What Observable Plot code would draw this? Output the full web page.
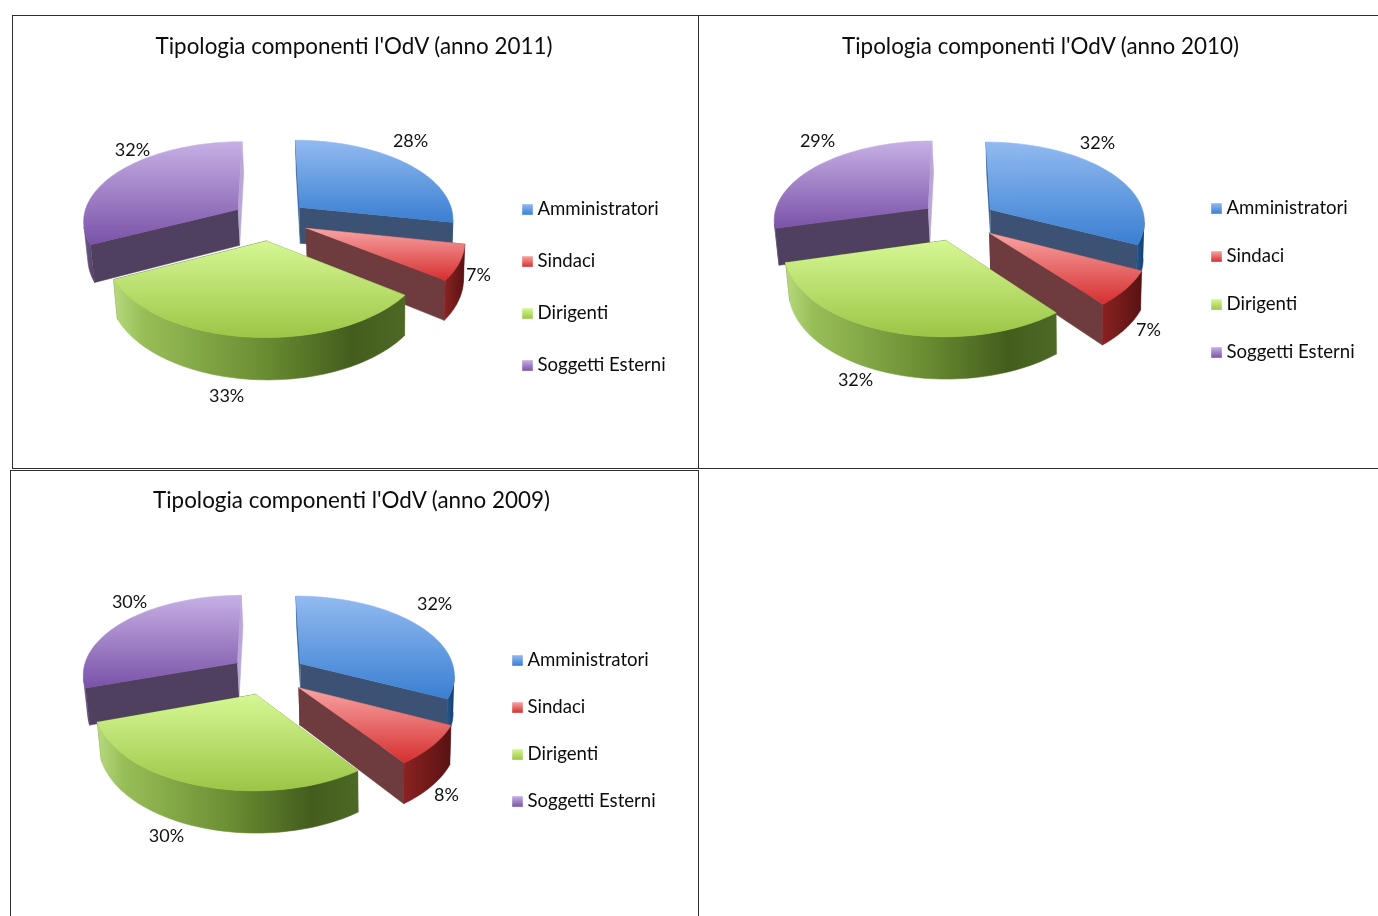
<!DOCTYPE html>
<html>
<head>
<meta charset="utf-8">
<style>
  html, body { margin: 0; padding: 0; background: #fff; }
  #page { position: relative; width: 1378px; height: 916px; overflow: hidden; background: #fff; filter: blur(0.35px); }
  .cell { position: absolute; box-sizing: border-box; border: 1px solid #2e2e2e; overflow: hidden; }
  .layer { position: absolute; }
  svg { display: block; background: transparent; overflow: visible; }
  svg text { font-family: Lato, "Open Sans", sans-serif; }
</style>
<script src="https://cdn.jsdelivr.net/npm/d3@7"></script>
<script src="https://cdn.jsdelivr.net/npm/@observablehq/plot@0.6"></script>
</head>
<body>
<div id="page"></div>
<script>
// ---- values
const categories = ["Amministratori", "Sindaci", "Dirigenti", "Soggetti Esterni"];
const shares2011 = [28, 7, 33, 32];
const shares2010 = [32, 7, 32, 29];
const shares2009 = [32, 8, 30, 30];
const title2011 = "Tipologia componenti l'OdV (anno 2011)";
const title2010 = "Tipologia componenti l'OdV (anno 2010)";
const title2009 = "Tipologia componenti l'OdV (anno 2009)";

// ---- label placement, in pie radii from the pie's centre
const labelX2011 = [0.907, 1.345, -0.28, -0.887];
const labelY2011 = [-0.971, 0.684, 2.177, -0.86];
const labelX2010 = [0.9, 1.229, -0.661, -0.906];
const labelY2010 = [-0.951, 1.358, 1.975, -0.976];
const labelX2009 = [1.075, 1.152, -0.655, -0.893];
const labelY2009 = [-0.865, 1.493, 2.0, -0.889];

// ---- styling
const topStops = [["#92baf0", "#3a7fd2"], ["#f8a4a4", "#d62f2f"], ["#d6f794", "#9cc646"], ["#c6b0e4", "#7a52a8"]];
const frontWallColors = ["#3b5275", "#6e3c3e", "#5a7a30", "#50405f"];
const backWallColors = ["#2a5a94", "#6e3c3e", "#5a7a30", "#b9a7d8"];
const arcStops = [
  [[0, "#27598f"], [1, "#123c6c"]],
  [[0, "#8a2222"], [1, "#5a1212"]],
  [[0, "#b6da7e"], [0.1, "#98be58"], [0.5, "#6c8f33"], [0.82, "#445d1d"], [1, "#4d6925"]],
  [[0, "#6d5a88"], [1, "#50405f"]]
];

// ---- pie geometry (pixels per radius, perspective, tilt, explosion)
const rx = 155, ry = 81, persp = 0.129, thick = 0.45, explode = 0.25, lean = 0.0144, vanish = 0.65;
const panelW = 686;

function project(X, Y, z) {
  const p = 1 + persp * Y;
  return { x: (X + (vanish - X) * lean * z) * p, y: (Y + thick * z) * p };
}

function sliceParts(shares) {
  const total = d3.sum(shares);
  let acc = 0;
  const slices = shares.map((s, i) => {
    const a0 = acc / total * 2 * Math.PI;
    acc += s;
    const a1 = acc / total * 2 * Math.PI;
    const mid = (a0 + a1) / 2;
    const ex = explode * Math.sin(mid), ey = -explode * Math.cos(mid);
    const pt = (a, r, z) => project(ex + r * Math.sin(a), ey - r * Math.cos(a), z);
    const steps = 64;
    const angles = d3.range(steps + 1).map(j => a0 + (a1 - a0) * j / steps);
    const top = [pt(a0, 0, 0), ...angles.map(a => pt(a, 1, 0))];
    const radial = [a0, a1]
      .sort((p, q) => (-Math.cos(p)) - (-Math.cos(q)))
      .map(a => [pt(a, 0, 0), pt(a, 1, 0), pt(a, 1, 1), pt(a, 0, 1)]);
    // the outer wall only where it faces the viewer
    const facing = angles.filter((a, j) => {
      if (j === steps) return false;
      const t0 = pt(a, 1, 0), t1 = pt(angles[j + 1], 1, 0), b0 = pt(a, 1, 1);
      return (t1.x - t0.x) * (b0.y - t0.y) - (t1.y - t0.y) * (b0.x - t0.x) < 0;
    });
    const arc = facing.length < 1 ? null : (() => {
      const run = [...facing, facing[facing.length - 1] + (a1 - a0) / steps];
      return [...run.map(a => pt(a, 1, 0)), ...run.slice().reverse().map(a => pt(a, 1, 1))];
    })();
    return { i, depth: ey, top, radial, arc };
  });
  return slices.sort((a, b) => a.depth - b.depth);
}

function gradients(prefix) {
  return () => {
    const g = d3.create("svg:g");
    const defs = g.append("defs");
    topStops.forEach((st, i) => {
      const lg = defs.append("linearGradient").attr("id", `${prefix}top${i}`)
        .attr("x1", 0).attr("y1", 0).attr("x2", 0).attr("y2", 1);
      lg.append("stop").attr("offset", 0).attr("stop-color", st[0]);
      lg.append("stop").attr("offset", 1).attr("stop-color", st[1]);
    });
    arcStops.forEach((st, i) => {
      const lg = defs.append("linearGradient").attr("id", `${prefix}arc${i}`)
        .attr("x1", 0).attr("y1", 0).attr("x2", 1).attr("y2", 0);
      st.forEach(([o, c]) => lg.append("stop").attr("offset", o).attr("stop-color", c));
    });
    return g.node();
  };
}

function face(points, fill) {
  return Plot.line(points, { x: "x", y: "y", fill, stroke: fill, strokeWidth: 0.6, curve: "linear" });
}

function pieChart(cfg) {
  const { prefix, shares, title, labelX, labelY, cx, cy, height, titleDx, titleDy } = cfg;
  const marks = [gradients(prefix)];
  for (const s of sliceParts(shares)) {
    s.radial.forEach((wall, w) => marks.push(face(wall, (w === 0 ? backWallColors : frontWallColors)[s.i])));
    if (s.arc) marks.push(face(s.arc, `url(#${prefix}arc${s.i})`));
    marks.push(face(s.top, `url(#${prefix}top${s.i})`));
  }
  const labels = shares.map((v, i) => ({ text: `${v}%`, x: labelX[i], y: labelY[i] }));
  marks.push(Plot.text(labels, { x: "x", y: "y", text: "text", fontSize: 18, fill: "#111" }));
  marks.push(Plot.text([title], {
    frameAnchor: "top", lineAnchor: "middle", dy: titleDy, dx: titleDx,
    fontSize: 22.4, fill: "#0c0c0c"
  }));
  return Plot.plot({
    width: panelW, height, margin: 0,
    x: { axis: null, domain: [-cx / rx, (panelW - cx) / rx], range: [0, panelW] },
    y: { axis: null, domain: [-cy / ry, (height - cy) / ry], range: [0, height] },
    marks
  });
}

function legendChart(prefix, span) {
  return Plot.plot({
    width: 170, height: span + 20, margin: 0,
    x: { axis: null, domain: [0, 1], range: [8, 170] },
    y: { axis: null, type: "point", domain: categories, range: [10, span + 10], padding: 0 },
    color: { domain: categories, range: categories.map((_, i) => `url(#${prefix}top${i})`) },
    marks: [
      Plot.dot(categories, { x: () => 0, y: d => d, symbol: "square", r: 6, fill: d => d }),
      Plot.text(categories, { x: () => 0, y: d => d, text: d => d, dx: 10, textAnchor: "start", fontSize: 18.6, fill: "#0c0c0c" })
    ]
  });
}

function addAt(parent, node, left, top) {
  node.classList.add("layer");
  node.style.left = left + "px";
  node.style.top = top + "px";
  parent.appendChild(node);
}

const page = document.getElementById("page");
const cells = [
  { left: 12, top: 15, w: 687, h: 454, cx: 257.5, cy: 204.6, height: 453, prefix: "a", shares: shares2011, title: title2011, labelX: labelX2011, labelY: labelY2011, titleDx: -1.5, titleDy: 31, legendLeft: 519, legendTop: 198, span: 157 },
  { left: 698, top: 15, w: 690, h: 454, cx: 259.5, cy: 205, height: 453, prefix: "b", shares: shares2010, title: title2010, labelX: labelX2010, labelY: labelY2010, titleDx: -1, titleDy: 31, legendLeft: 1208, legendTop: 196.5, span: 146 },
  { left: 10, top: 470, w: 689, h: 470, cx: 257.5, cy: 204, height: 446, prefix: "c", shares: shares2009, title: title2009, labelX: labelX2009, labelY: labelY2009, titleDx: -2, titleDy: 30, legendLeft: 509, legendTop: 650, span: 141 }
];
for (const c of cells) {
  const box = document.createElement("div");
  box.className = "cell";
  box.style.cssText = `left:${c.left}px;top:${c.top}px;width:${c.w}px;height:${c.h}px`;
  page.appendChild(box);
  addAt(page, pieChart(c), c.left, c.top);
  addAt(page, legendChart(c.prefix, c.span), c.legendLeft, c.legendTop);
}
</script>
</body>
</html>
